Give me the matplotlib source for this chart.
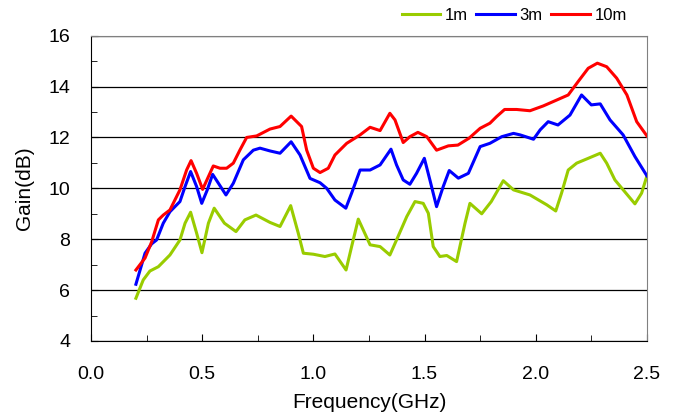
import matplotlib.pyplot as plt
import numpy as np

plt.rcParams['font.family'] = ['Liberation Sans', 'DejaVu Sans']

# 数据
freq_10m = [0.202, 0.243, 0.273, 0.303, 0.325, 0.355, 0.40, 0.43, 0.45, 0.475, 0.502, 0.528, 0.55,
            0.58, 0.61, 0.64, 0.67, 0.70, 0.745, 0.805, 0.85, 0.90, 0.947, 0.97, 1.0, 1.03, 1.067,
            1.097, 1.15, 1.21, 1.255, 1.30, 1.344, 1.367, 1.404, 1.434, 1.47, 1.51, 1.554, 1.607,
            1.65, 1.70, 1.75, 1.794, 1.824, 1.86, 1.914, 1.974, 2.034, 2.094, 2.146, 2.19, 2.236,
            2.277, 2.319, 2.364, 2.41, 2.454, 2.50]
gain_10m = [6.79, 7.26, 7.9, 8.76, 8.95, 9.15, 9.94, 10.72, 11.09, 10.59, 9.96, 10.46, 10.88,
            10.79, 10.79, 10.99, 11.51, 12.0, 12.06, 12.33, 12.43, 12.84, 12.43, 11.5, 10.79, 10.62,
            10.79, 11.31, 11.77, 12.1, 12.4, 12.27, 12.95, 12.69, 11.8, 12.03, 12.2, 12.03, 11.5,
            11.67, 11.7, 11.97, 12.36, 12.56, 12.82, 13.1, 13.1, 13.05, 13.24, 13.47, 13.67, 14.19,
            14.72, 14.92, 14.78, 14.33, 13.67, 12.62, 12.06]

freq_3m = [0.202, 0.243, 0.273, 0.295, 0.325, 0.355, 0.40, 0.423, 0.448, 0.475, 0.498, 0.523,
           0.547, 0.573, 0.607, 0.64, 0.685, 0.73, 0.76, 0.805, 0.85, 0.90, 0.94, 0.985, 1.03,
           1.06, 1.097, 1.146, 1.172, 1.21, 1.255, 1.30, 1.349, 1.374, 1.404, 1.434, 1.464, 1.499,
           1.524, 1.554, 1.584, 1.611, 1.652, 1.697, 1.75, 1.794, 1.847, 1.90, 1.93, 1.99, 2.02,
           2.056, 2.10, 2.154, 2.206, 2.25, 2.29, 2.334, 2.393, 2.446, 2.50]
gain_3m = [6.23, 7.45, 7.82, 7.97, 8.63, 9.08, 9.48, 10.07, 10.66, 10.07, 9.41, 9.94,
           10.55, 10.2, 9.74, 10.2, 11.12, 11.5, 11.58, 11.47, 11.38, 11.83, 11.31, 10.39, 10.22,
           10.0, 9.54, 9.22, 9.81, 10.72, 10.72, 10.92, 11.54, 10.92, 10.33, 10.16, 10.59, 11.18,
           10.33, 9.28, 10.07, 10.7, 10.4, 10.59, 11.64, 11.77, 12.03, 12.16, 12.1, 11.93, 12.3,
           12.62, 12.49, 12.88, 13.67, 13.28, 13.32, 12.69, 12.1, 11.25, 10.49]

freq_1m = [0.202, 0.235, 0.265, 0.303, 0.355, 0.40, 0.423, 0.448, 0.475, 0.499, 0.528, 0.554,
           0.60, 0.652, 0.692, 0.742, 0.805, 0.85, 0.898, 0.932, 0.955, 1.0, 1.052, 1.097, 1.147,
           1.172, 1.202, 1.255, 1.30, 1.344, 1.374, 1.42, 1.457, 1.494, 1.517, 1.539, 1.569, 1.60,
           1.644, 1.682, 1.704, 1.757, 1.80, 1.854, 1.90, 1.974, 2.05, 2.09, 2.116, 2.146, 2.184,
           2.236, 2.29, 2.319, 2.356, 2.40, 2.446, 2.476, 2.50]
gain_1m = [5.68, 6.4, 6.75, 6.92, 7.38, 7.97, 8.63, 9.06, 8.24, 7.47, 8.63, 9.22,
           8.63, 8.30, 8.76, 8.95, 8.66, 8.5, 9.32, 8.24, 7.45, 7.41, 7.32, 7.42, 6.79,
           7.71, 8.79, 7.78, 7.71, 7.38, 7.97, 8.89, 9.48, 9.41, 9.02, 7.71, 7.32, 7.36,
           7.12, 8.63, 9.41, 9.0, 9.48, 10.3, 9.94, 9.74, 9.35, 9.11, 9.81, 10.72, 10.99,
           11.18, 11.38, 10.99, 10.33, 9.87, 9.39, 9.81, 10.49]

fig = plt.figure(figsize=(6.76, 4.17), dpi=100)
ax = fig.add_axes([0.1346, 0.1823, 0.8224, 0.7321])

ax.plot(freq_1m, gain_1m, color='#99cc00', lw=2.2, label='1m', solid_joinstyle='round')
ax.plot(freq_3m, gain_3m, color='#0000ff', lw=2.2, label='3m', solid_joinstyle='round')
ax.plot(freq_10m, gain_10m, color='#ff0000', lw=2.2, label='10m', solid_joinstyle='round')

ax.set_xlim(0, 2.5)
ax.set_ylim(4, 16)
ax.set_xticks(np.arange(0, 2.51, 0.5))
ax.set_xticks(np.arange(0, 2.51, 0.25), minor=True)
ax.set_yticks(np.arange(4, 16.1, 2))
ax.set_yticks(np.arange(4, 16.1, 1), minor=True)
ax.set_xticklabels([f'{v:.1f}' for v in np.arange(0, 2.51, 0.5)])
ax.tick_params(axis='both', which='both', direction='in', labelsize=14)
ax.tick_params(axis='x', which='major', pad=18, length=5)
ax.tick_params(axis='x', which='minor', length=4)
ax.tick_params(axis='y', which='major', pad=15, length=5)
ax.tick_params(axis='y', which='minor', length=4)

ax.yaxis.grid(True, which='major', color='black', lw=0.9)
ax.set_axisbelow(True)
for s in ['top', 'right']:
    ax.spines[s].set_color('#808080')
ax.spines['left'].set_color('black')
ax.spines['bottom'].set_color('black')

ax.set_xlabel('Frequency(GHz)', fontsize=15, labelpad=7)
ax.set_ylabel('Gain(dB)', fontsize=15, labelpad=10.5)

ax.legend(loc='center right', bbox_to_anchor=(0.964, 1.066), ncol=3, frameon=False,
          fontsize=12, handlelength=2.3, handletextpad=0.3, columnspacing=0.5,
          borderpad=0, borderaxespad=0)

plt.savefig('out.png', dpi=100)
